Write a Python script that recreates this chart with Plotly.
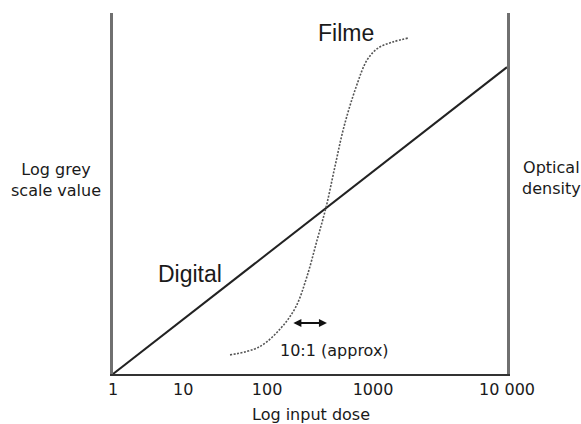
import plotly.graph_objects as go

# Horizontal axis runs 0-100 across the plot; dose ticks sit at these points
tick_vals = [0, 17.8, 39.1, 66.0, 100]
tick_text = ["1", "10", "100", "1000", "10 000"]

# Digital detector: straight line in log-log space
digital_x = [0, 100]
digital_y = [0, 85]

# Film: sigmoid characteristic curve
film_x = [29.7, 37.1, 42.6, 46.4, 49.2, 51.8, 54.1, 56.3, 58.6, 61.7, 64.5, 67.3, 71.1, 75.1]
film_y = [5.3, 7.5, 12.7, 18.6, 26.9, 37.1, 46.3, 57.3, 68.4, 79.5, 87.0, 90.3, 92.0, 93.1]

# Latitude of film: roughly one decade of dose
latitude_x = [45.4, 54.3]
latitude_y = 14.1

text_col = "#1a1a1a"
body_font = dict(family="DejaVu Sans", size=16, color=text_col)
label_font = dict(family="Liberation Sans", size=23, color=text_col)

fig = go.Figure()
fig.add_trace(go.Scatter(x=digital_x, y=digital_y, mode="lines",
                         line=dict(color="#222222", width=2), hoverinfo="skip"))
fig.add_trace(go.Scatter(x=film_x, y=film_y, mode="lines",
                         line=dict(color="#555555", width=1.6, dash="2px,1.5px", shape="spline"),
                         hoverinfo="skip"))

fig.add_annotation(x=59.1, y=94.5, text="Filme", showarrow=False, font=label_font)
fig.add_annotation(x=19.5, y=27.7, text="Digital", showarrow=False, font=label_font)
fig.add_annotation(x=56.3, y=6.6, text="10:1 (approx)", showarrow=False, font=body_font)
fig.add_annotation(x=latitude_x[1], y=latitude_y, ax=latitude_x[0], ay=latitude_y,
                   xref="x", yref="y", axref="x", ayref="y", text="",
                   showarrow=True, arrowside="end+start", arrowhead=2,
                   arrowsize=0.8, arrowwidth=2, arrowcolor="#111111")

fig.add_annotation(x=-0.145, y=0.537, xref="paper", yref="paper",
                   xanchor="center", yanchor="middle",
                   text="Log grey<br>scale value", showarrow=False, font=body_font)
fig.add_annotation(x=1.112, y=0.543, xref="paper", yref="paper",
                   xanchor="center", yanchor="middle",
                   text="Optical<br>density", showarrow=False, font=body_font)
fig.add_annotation(x=0.503, y=-0.111, xref="paper", yref="paper",
                   xanchor="center", yanchor="middle",
                   text="Log input dose", showarrow=False, font=body_font)

fig.update_layout(
    width=581, height=424,
    margin=dict(l=113, r=74, t=13, b=50),
    paper_bgcolor="white", plot_bgcolor="white",
    showlegend=False,
    xaxis=dict(range=[0, 100], tickvals=tick_vals, ticktext=tick_text,
               showgrid=False, zeroline=False, showline=True,
               linecolor="#333333", linewidth=2, ticks="",
               tickfont=body_font, fixedrange=True),
    yaxis=dict(range=[0, 100], showticklabels=False, showgrid=False,
               zeroline=False, showline=True, mirror=True,
               linecolor="#707070", linewidth=3, ticks="", fixedrange=True),
)

fig.write_html("out.html")
